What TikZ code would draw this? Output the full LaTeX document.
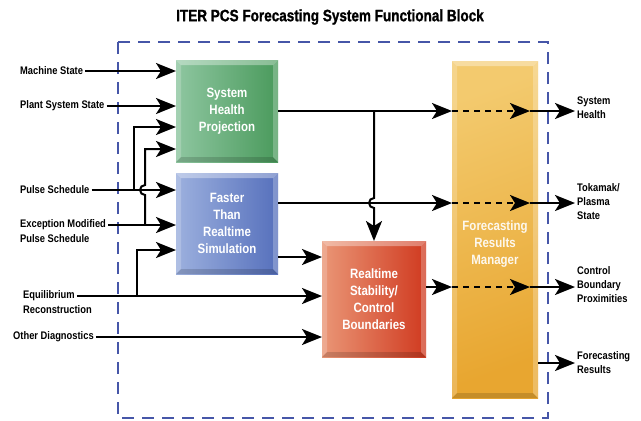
\documentclass[tikz,border=0pt]{standalone}
\usepackage{fontspec}
\newfontfamily\condfont{Liberation Sans}[FakeStretch=0.85]
\newfontfamily\heavyfont{Liberation Sans}[FakeStretch=0.82,BoldFeatures={FakeBold=1.2}]
\usetikzlibrary{arrows.meta,positioning}

\definecolor{healthgreen}{HTML}{4A9A5C}
\definecolor{healthlight}{HTML}{8EC6A0}
\definecolor{simblue}{HTML}{5670BC}
\definecolor{simlight}{HTML}{9CB0DE}
\definecolor{stabred}{HTML}{D03A20}
\definecolor{stablight}{HTML}{EA9676}
\definecolor{mgrorange}{HTML}{E8A630}
\definecolor{mgrlight}{HTML}{F3CA6E}
\definecolor{frameblue}{HTML}{4656A8}

\tikzset{
  flow/.style={line width=2pt, -{Stealth[length=20pt,width=16pt,inset=5pt]}},
  inlabel/.style={anchor=west, inner sep=2pt, align=left,
    font=\condfont\bfseries\fontsize{11}{13}\selectfont},
  outlabel/.style={anchor=west, inner sep=2pt, align=left,
    font=\condfont\bfseries\fontsize{11}{14}\selectfont},
  bevel/.style={path picture={
    \path (path picture bounding box.south west) coordinate (bsw)
          (path picture bounding box.north east) coordinate (bne)
          (path picture bounding box.north west) coordinate (bnw)
          (path picture bounding box.south east) coordinate (bse);
    \fill[white,opacity=.35] (bnw) -- (bne) -- ([shift={(-5pt,-5pt)}]bne) -- ([shift={(5pt,-5pt)}]bnw) -- cycle;
    \fill[white,opacity=.2] (bsw) -- (bnw) -- ([shift={(5pt,-5pt)}]bnw) -- ([shift={(5pt,5pt)}]bsw) -- cycle;
    \fill[white,opacity=.25] (bse) -- (bne) -- ([shift={(-5pt,-5pt)}]bne) -- ([shift={(-5pt,5pt)}]bse) -- cycle;
    \fill[black,opacity=.15] (bsw) -- (bse) -- ([shift={(-5pt,5pt)}]bse) -- ([shift={(5pt,5pt)}]bsw) -- cycle;
  }},
  block/.style={rectangle, inner sep=0pt, outer sep=0pt, align=center, text=white,
    font=\condfont\bfseries\fontsize{13.5}{17}\selectfont, shading angle=45, bevel}
}

\begin{document}
\begin{tikzpicture}[x=1pt,y=1pt]
  \useasboundingbox (0,0) rectangle (641,-421);

  % title and frame
  \node[font=\heavyfont\bfseries\fontsize{16.5}{18}\selectfont] (title) at (330,-17)
    {ITER PCS Forecasting System Functional Block};
  \draw[frameblue, line width=2.2pt, dash pattern=on 12pt off 8pt] (118,-42) rectangle (548,-418);

  % blocks
  \node[block, left color=healthlight, right color=healthgreen,
        minimum width=102pt, minimum height=102pt] (health) at (227,-111) {System\\Health\\Projection};
  \node[block, left color=simlight, right color=simblue,
        minimum width=102pt, minimum height=101pt] (sim) at (227,-223.5) {Faster\\Than\\Realtime\\Simulation};
  \node[block, left color=stablight, right color=stabred,
        minimum width=104pt, minimum height=116pt] (stab) at (374,-299) {Realtime\\Stability/\\Control\\Boundaries};
  \node[block, left color=mgrlight, right color=mgrorange, shading angle=20,
        minimum width=86pt, minimum height=337pt] (manager) at (495,-229.5) {};
  \node[font=\condfont\bfseries\fontsize{13.5}{17}\selectfont, text=white!92!mgrorange, align=center]
    (mgrtext) at (495,-244) {Forecasting\\Results\\Manager};

  % inputs
  \node[inlabel] (machine) at (18,-71) {Machine State};
  \node[inlabel] (plant) at (18,-106) {Plant System State};
  \node[inlabel] (pulse) at (18,-190) {Pulse Schedule};
  \node[inlabel] (except) at (18,-225) {Exception Modified};
  \node[inlabel] (except2) at (18,-239) {Pulse Schedule};
  \node[inlabel] (equil) at (21,-296) {Equilibrium};
  \node[inlabel] (equil2) at (21,-310) {Reconstruction};
  \node[inlabel] (diag) at (11,-337) {Other Diagnostics};

  % outputs
  \node[outlabel] (outhealth) at (575,-108) {System\\Health};
  \node[outlabel] (outplasma) at (575,-202) {Tokamak/\\Plasma\\State};
  \node[outlabel] (outbound) at (575,-285) {Control\\Boundary\\Proximities};
  \node[outlabel] (outresults) at (575,-363) {Forecasting\\Results};

  \coordinate (pulsejoin) at (134,-190);
  \coordinate (exceptjoin) at (145,-225);
  \coordinate (equiljoin) at (137,-296);
  \coordinate (healthjoin) at (374,-111);

  % input connectors
  \draw[flow] (machine.east) -- (machine.east -| health.west);
  \draw[flow] (plant.east) -- (plant.east -| health.west);
  \draw[flow] (pulse.east) -- (pulse.east -| sim.west);
  \draw[flow] (pulsejoin) |- (health.west |- 0,-127);
  \draw[flow] (except.east) -- (except.east -| sim.west);
  \draw[flow] (exceptjoin) -- (145,-195) arc[start angle=-90, end angle=-270, radius=5pt]
    -- (145,-149) -- (health.west |- 0,-149);
  \draw[flow] (equil.east) -- (equil.east -| stab.west);
  \draw[flow] (equiljoin) |- (sim.west |- 0,-250);
  \draw[flow] (diag.east) -- (diag.east -| stab.west);

  % block connectors
  \draw[flow] (sim.east |- 0,-257) -- (stab.west |- 0,-257);
  \draw[flow] (health.east) -- (health.east -| manager.west);
  \draw[flow] (healthjoin) -- (374,-198) arc[start angle=90, end angle=270, radius=5pt] -- (stab.north);
  \draw[flow] (sim.east |- 0,-203) -- (manager.west |- 0,-203);
  \draw[flow] (stab.east |- 0,-287) -- (manager.west |- 0,-287);

  % through the manager
  \foreach \y/\out in {-111/outhealth,-203/outplasma,-287/outbound}{
    \draw[flow, dash pattern=on 6pt off 5pt] (manager.west |- 0,\y) -- ++(78,0) coordinate (\out-in);
    \draw[flow] (\out-in) -- (\out-in -| \out.west);
  }
  \draw[flow] (manager.east |- outresults.west) -- (outresults.west);
\end{tikzpicture}
\end{document}
